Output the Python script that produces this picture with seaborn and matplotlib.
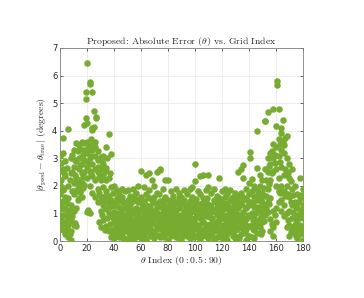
import matplotlib
matplotlib.use("Agg")
import matplotlib.pyplot as plt
import seaborn as sns
import pandas as pd

# theta grid index -> absolute errors (degrees)
theta_index = [0, 2, 4, 6, 8, 10, 12, 14, 16, 18, 19, 20, 22, 24, 25, 26, 27, 28, 30, 32,
               34, 36, 38, 40, 42, 44, 46, 48, 50, 52, 54, 56, 58, 60, 62, 64, 66, 68, 70, 72,
               74, 76, 78, 80, 82, 84, 86, 88, 90, 92, 94, 96, 98, 100, 102, 104, 106, 108, 110, 112,
               114, 116, 118, 120, 122, 124, 126, 128, 130, 132, 134, 136, 138, 140, 141, 142, 144, 146, 148, 150,
               152, 154, 156, 158, 160, 161, 162, 164, 165, 166, 168, 170, 172, 174, 176, 178, 180]

abs_error = [
    [3.08, 2.55, 2.05, 1.7, 1.15, 0.55],
    [3.18, 2.6, 1.85, 1.45, 0.95, 0.4, 3.73],
    [2.9, 2.35, 1.6, 1.2, 0.7, 0.25],
    [4.06, 1.55, 1.05, 0.6, 0.15, 2.0],
    [3.0, 2.45, 1.3, 0.8, 0.35, 0.05],
    [3.3, 2.7, 2.1, 1.1, 0.6, 1.7],
    [3.55, 2.9, 2.3, 1.85, 0.55, 1.2],
    [3.5, 2.6, 2.2, 3.0, 1.55, 1.9],
    [3.6, 3.05, 2.45, 2.1, 1.6, 2.8],
    [4.21, 3.55, 2.95, 2.5, 2.05, 3.3],
    [5.39, 5.15, 4.46],
    [6.45, 4.28, 3.2, 2.7, 2.3, 1.05, 3.6],
    [5.76, 5.7, 3.5, 3.0, 2.55, 1.0, 2.0],
    [5.42, 4.1, 4.02, 3.3, 2.8, 2.35, 1.75],
    [4.72, 4.13],
    [3.6, 3.1, 2.6, 2.2, 1.6, 3.4],
    [4.47, 4.5],
    [3.25, 2.95, 2.5, 1.9, 1.4, 2.7],
    [3.05, 2.6, 2.2, 1.6, 0.5, 1.1],
    [3.1, 2.4, 1.95, 1.3, 0.75, 2.8],
    [3.42, 2.65, 1.8, 1.15, 0.55, 2.2],
    [3.89, 2.3, 1.65, 1.0, 0.35, 1.35],
    [3.15, 1.95, 1.5, 0.9, 0.4, 0.15],
    [2.0, 1.37, 1.05, 0.7, 0.3, 0.1],
    [1.85, 1.55, 1.02, 0.55, 0.25, 0.8],
    [1.7, 1.25, 0.9, 0.45, 0.15, 0.65],
    [1.6, 1.18, 0.85, 0.5, 0.2, 1.9],
    [1.8, 1.35, 0.95, 0.35, 0.04, 0.6],
    [1.5, 1.08, 0.75, 0.41, 0.1, 1.85],
    [1.65, 1.3, 0.97, 0.6, 0.2, 0.85],
    [1.9, 1.45, 1.0, 0.5, 0.3, 0.03],
    [1.75, 1.2, 0.82, 0.45, 0.15, 1.5],
    [2.0, 1.4, 1.05, 0.7, 0.3, 0.55],
    [2.54, 1.6, 1.15, 0.8, 0.4, 0.1],
    [1.95, 1.45, 1.0, 0.6, 0.2, 1.25],
    [2.4, 1.7, 1.3, 0.9, 0.45, 0.05],
    [2.45, 1.85, 1.2, 0.75, 0.35, 1.55],
    [2.2, 1.5, 1.05, 0.65, 0.25, 0.95],
    [2.0, 1.6, 1.1, 0.8, 0.3, 0.1],
    [2.5, 1.75, 1.3, 0.85, 0.45, 1.0],
    [2.6, 2.58, 1.45, 0.95, 0.55, 0.15],
    [1.9, 1.4, 1.05, 0.7, 0.35, 1.2],
    [2.23, 1.6, 1.15, 0.6, 0.25, 0.9],
    [2.23, 1.5, 1.0, 0.75, 0.4, 0.05],
    [1.8, 1.3, 0.9, 0.55, 0.2, 1.1],
    [1.65, 1.25, 0.95, 0.6, 0.3, 1.45],
    [1.9, 1.4, 1.0, 0.7, 0.15, 0.45],
    [1.75, 1.2, 0.85, 0.5, 0.1, 1.55],
    [1.6, 1.35, 0.95, 0.65, 0.35, 0.05],
    [1.85, 1.5, 1.1, 0.75, 0.25, 0.5],
    [1.7, 1.3, 0.9, 0.6, 0.2, 1.15],
    [1.9, 1.45, 1.0, 0.7, 0.4, 0.1],
    [1.95, 1.6, 1.2, 0.8, 0.3, 0.55],
    [2.81, 2.17, 1.5, 1.05, 0.65, 0.2],
    [1.8, 1.35, 0.95, 0.5, 0.15, 1.15],
    [2.37, 1.7, 1.25, 0.85, 0.4, 0.05],
    [2.4, 1.55, 1.1, 0.7, 0.3, 0.9],
    [1.85, 1.4, 1.0, 0.6, 0.2, 1.2],
    [2.4, 1.97, 1.3, 0.9, 0.45, 0.1],
    [1.75, 1.25, 0.85, 0.55, 0.25, 1.05],
    [1.9, 1.5, 1.1, 0.7, 0.35, 0.05],
    [1.65, 1.2, 0.95, 0.6, 0.15, 1.4],
    [2.27, 1.55, 1.05, 0.75, 0.4, 0.2],
    [1.8, 1.35, 0.9, 0.5, 0.1, 1.1],
    [1.9, 1.6, 1.2, 0.8, 0.45, 0.25],
    [1.7, 1.3, 0.95, 0.65, 0.3, 0.05],
    [1.85, 1.45, 1.05, 0.7, 0.35, 1.2],
    [1.6, 1.25, 0.9, 0.55, 0.2, 1.0],
    [1.73, 1.4, 1.1, 0.75, 0.4, 0.1],
    [2.51, 1.65, 1.2, 0.85, 0.5, 0.15],
    [2.63, 1.73, 1.35, 0.95, 0.6, 0.25],
    [2.28, 2.75, 1.5, 1.05, 0.7, 0.3],
    [1.9, 1.55, 1.2, 0.8, 0.45, 0.05],
    [2.1, 1.7, 1.3, 0.9, 0.55, 0.2],
    [3.24, 3.02],
    [2.25, 1.8, 1.4, 1.0, 0.6, 0.15],
    [2.0, 1.6, 1.25, 0.85, 0.4, 0.1],
    [4.0, 2.64, 1.9, 1.5, 1.1, 0.7, 0.3],
    [2.4, 2.0, 1.6, 1.2, 0.8, 0.5],
    [2.2, 1.75, 1.4, 1.05, 0.7, 0.35],
    [4.35, 4.36, 2.6, 1.65, 1.3, 0.95],
    [4.67, 3.0, 2.5, 1.9, 1.4, 1.05],
    [3.2, 2.8, 2.2, 1.55, 0.8, 0.35],
    [4.78, 3.53, 3.0, 2.55, 1.1, 0.5, 0.2],
    [4.16, 3.4, 2.6, 2.0, 1.2, 0.7],
    [5.79, 5.66],
    [4.77, 3.7, 3.1, 2.3, 1.8, 1.4],
    [4.1, 3.9, 3.3, 2.7, 2.0, 1.5, 1.1],
    [4.38, 3.6],
    [3.5, 3.19, 2.4, 1.8, 1.3, 0.9],
    [3.8, 3.0, 2.5, 2.0, 1.0, 0.5],
    [2.8, 2.3, 1.6, 1.1, 0.6, 0.2],
    [2.6, 1.9, 1.3, 0.85, 0.4],
    [2.0, 1.4, 0.95, 0.6, 0.3],
    [1.7, 1.2, 0.8, 0.45, 0.1],
    [2.3, 1.55, 1.0, 0.6, 0.25],
    [1.9, 1.3, 0.85, 0.4, 0.05],
]

# odd grid indices
theta_index_odd = [1, 3, 5, 7, 9, 11, 13, 15, 17, 21, 23, 29, 31, 33, 35, 37, 39, 41, 43, 45,
                   47, 49, 51, 53, 55, 57, 59, 61, 63, 65, 67, 69, 71, 73, 75, 77, 79, 81, 83, 85,
                   87, 89, 91, 93, 95, 97, 99, 101, 103, 105, 107, 109, 111, 113, 115, 117, 119, 121, 123, 125,
                   127, 129, 131, 133, 135, 137, 139, 143, 145, 147, 149, 151, 153, 155, 157, 159, 163, 167, 169, 171,
                   173, 175, 177, 179]

abs_error_odd = [
    [2.21, 1.33, 0.78, 2.84], [1.92, 0.62, 2.47, 1.18], [1.37, 0.43, 0.88, 2.66], [1.12, 0.27, 0.71, 2.2],
    [2.52, 1.83, 0.92, 3.12], [2.93, 0.66, 2.41], [3.27, 2.07, 1.48], [2.74, 3.34, 1.77],
    [3.12, 2.33, 1.93], [3.38, 2.87, 1.12], [3.71, 2.44, 3.07], [2.33, 1.73, 0.68],
    [2.91, 1.47, 0.93], [2.54, 1.62, 0.41], [3.02, 1.44, 0.83], [2.47, 1.22, 0.62],
    [1.73, 0.83, 0.22], [1.28, 0.47, 0.93], [1.46, 0.73, 0.33], [1.03, 0.28, 1.57],
    [1.42, 0.67, 0.12], [1.23, 0.53, 0.87], [1.38, 0.31, 0.72], [1.13, 0.78, 0.43],
    [1.62, 0.67, 0.22], [1.07, 0.37, 0.92], [1.52, 0.87, 0.26], [1.33, 0.68, 0.52],
    [1.12, 0.33, 0.78], [1.58, 0.97, 0.57], [1.27, 0.48, 0.18], [1.43, 0.87, 0.36],
    [1.17, 0.58, 1.38], [1.72, 0.71, 0.23], [1.22, 0.47, 0.83], [1.53, 0.92, 0.13],
    [1.28, 0.63, 0.42], [1.18, 0.72, 0.28], [1.47, 0.38, 0.77], [1.12, 0.52, 0.87],
    [1.37, 0.82, 0.27], [1.22, 0.43, 0.67], [1.47, 0.88, 0.18], [1.28, 0.62, 0.37],
    [1.17, 0.77, 0.52], [1.42, 0.33, 0.83], [1.27, 0.68, 0.13], [1.52, 0.87, 0.42],
    [1.13, 0.57, 0.28], [1.38, 0.78, 0.17], [1.23, 0.43, 0.67], [1.57, 0.92, 0.33],
    [1.32, 0.63, 0.22], [1.18, 0.83, 0.47], [1.43, 0.52, 0.12], [1.27, 0.72, 0.38],
    [1.48, 0.93, 0.28], [1.22, 0.58, 0.83], [1.37, 0.42, 0.17], [1.12, 0.77, 0.53],
    [1.53, 0.88, 0.32], [1.28, 0.62, 0.22], [1.47, 0.97, 0.43], [1.32, 0.73, 0.12],
    [1.58, 0.87, 0.48], [1.22, 0.62, 0.33], [1.47, 0.93, 0.18], [1.33, 0.77, 0.42],
    [1.62, 1.02, 0.53], [1.83, 1.23, 0.62], [1.47, 0.88, 0.27], [1.93, 1.27, 0.73],
    [2.23, 1.62, 1.17], [2.73, 2.07, 1.33], [3.27, 2.48, 0.62], [3.13, 2.83, 0.93],
    [3.52, 2.88, 1.73], [3.73, 2.63, 1.62], [2.47, 1.72, 0.77], [2.17, 1.42, 0.33],
    [1.68, 1.07, 0.52], [1.23, 0.67, 0.18], [1.43, 0.83, 0.32], [1.67, 1.13, 0.48],
]

x_ticks = [0, 20, 40, 60, 80, 100, 120, 140, 160, 180]
y_ticks = [0, 1, 2, 3, 4, 5, 6, 7]

rows = [(idx, e) for idx, errs in zip(theta_index + theta_index_odd, abs_error + abs_error_odd)
        for e in errs]
df = pd.DataFrame(rows, columns=["idx", "err"])

sns.set_style("ticks")
plt.rcParams["mathtext.fontset"] = "cm"
serif = {"family": "serif", "fontname": "cmr10"}

fig = plt.figure(figsize=(3.64, 2.98), dpi=100)
ax = fig.add_axes([0.165, 0.191, 0.667, 0.648])

sns.scatterplot(data=df, x="idx", y="err", ax=ax, color="#77AC30",
                s=22, linewidth=0, alpha=1, zorder=3, clip_on=True)

ax.set_xlim(0, 180)
ax.set_ylim(0, 7)
ax.set_xticks(x_ticks)
ax.set_yticks(y_ticks)
ax.grid(True, color="#e6e6e6", linewidth=0.5, zorder=0)
ax.tick_params(direction="in", length=2.5, width=0.5, labelsize=6, colors="#262626",
               top=True, right=True, pad=2)
for side in ["top", "right", "bottom", "left"]:
    ax.spines[side].set_visible(True)
    ax.spines[side].set_color("#7f7f7f")
    ax.spines[side].set_linewidth(0.6)

ax.set_title(r"Proposed: Absolute Error $(\theta)$ vs. Grid Index", fontsize=7, pad=3, **serif)
ax.set_xlabel(r"$\theta$ Index $(0:0.5:90)$", fontsize=7, labelpad=1, **serif)
ax.set_ylabel(r"$|\theta_{\rm pred}-\theta_{\rm true}|$ (degrees)", fontsize=7, labelpad=2, **serif)

fig.savefig("out.png", dpi=100)
